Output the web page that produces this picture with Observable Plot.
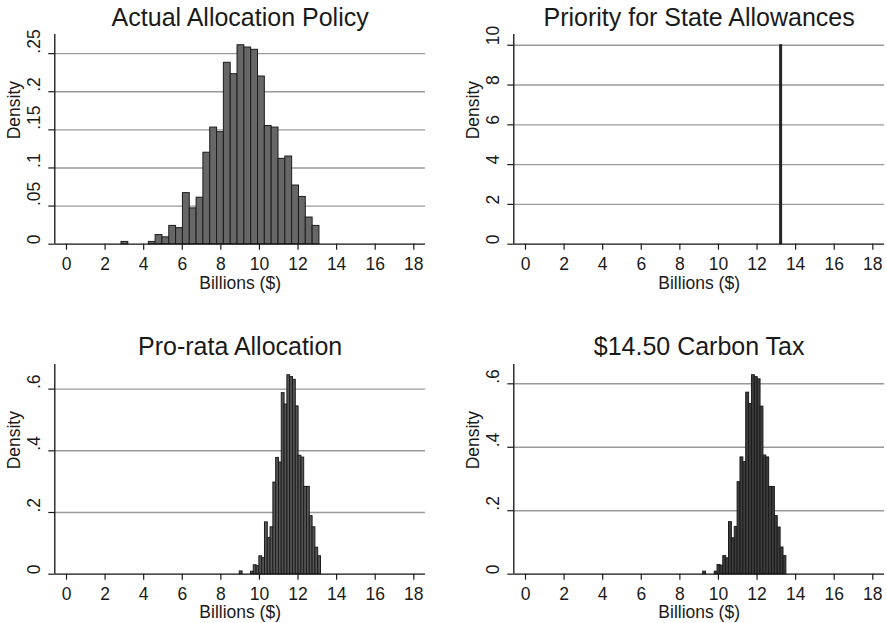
<!DOCTYPE html>
<html><head><meta charset="utf-8">
<script src="https://cdn.jsdelivr.net/npm/d3@7"></script>
<script src="https://cdn.jsdelivr.net/npm/@observablehq/plot@0.6"></script>
<style>
html,body{margin:0;padding:0;background:#fff;}
#chart{position:relative;width:887px;height:623px;overflow:hidden;background:#fff;}
#chart > svg{position:absolute;}
</style></head><body><div id="chart"></div>
<script>
// ---- Data ----
const xTicks = [0, 2, 4, 6, 8, 10, 12, 14, 16, 18];
const xLabel = "Billions ($)";
const yLabel = "Density";
const titles = ["Actual Allocation Policy", "Priority for State Allowances", "Pro-rata Allocation", "$14.50 Carbon Tax"];

// histogram bin range (billions $) and density per bin
const actualRange = [2.85, 13.11];
const actualDensity = [0.003, 0, 0, 0, 0.003, 0.012, 0.009, 0.024, 0.021, 0.067, 0.047, 0.061, 0.120, 0.153, 0.147,
  0.238, 0.223, 0.261, 0.258, 0.255, 0.220, 0.155, 0.153, 0.112, 0.115, 0.077, 0.062, 0.035, 0.024];

const priorityRange = [13.2, 13.3];
const priorityDensity = [10];

const prorataRange = [8.98, 13.19];
const prorataDensity = [0.009, 0, 0, 0, 0.008, 0.029, 0.026, 0.058, 0.052, 0.168, 0.117, 0.152, 0.297, 0.377, 0.362,
  0.587, 0.550, 0.645, 0.639, 0.630, 0.544, 0.384, 0.378, 0.283, 0.283, 0.188, 0.152, 0.086, 0.058];

const carbonRange = [9.21, 13.52];
const carbonDensity = [0.008, 0, 0, 0, 0.008, 0.029, 0.027, 0.057, 0.050, 0.164, 0.113, 0.149, 0.290, 0.368, 0.353,
  0.572, 0.536, 0.627, 0.621, 0.614, 0.528, 0.374, 0.368, 0.275, 0.275, 0.183, 0.147, 0.084, 0.057];

const actualYTicks = [0, 0.05, 0.1, 0.15, 0.2, 0.25];
const actualYLabels = ["0", ".05", ".1", ".15", ".2", ".25"];
const priorityYTicks = [0, 2, 4, 6, 8, 10];
const priorityYLabels = ["0", "2", "4", "6", "8", "10"];
const prorataYTicks = [0, 0.2, 0.4, 0.6];
const prorataYLabels = ["0", ".2", ".4", ".6"];
const carbonYTicks = [0, 0.2, 0.4, 0.6];
const carbonYLabels = ["0", ".2", ".4", ".6"];

// ---- Build ----
function makeBins(range, dens) {
  const w = (range[1] - range[0]) / dens.length;
  return dens.map((d, i) => ({x1: range[0] + i * w, x2: range[0] + (i + 1) * w, density: d}))
             .filter(d => d.density > 0);
}

const FONT = "'Liberation Sans', Arial, Helvetica, sans-serif";
const xDom = [-0.606, 18.606];

function panel({title, bins, yTicks, yLabels, fill, width, height, marginRight, marginBottom, left, top}) {
  const yMax = d3.max(bins, d => d.density) * 1.054;
  const svg = Plot.plot({
    width, height,
    marginLeft: 54.3, marginRight, marginTop: 34, marginBottom,
    style: {fontFamily: FONT, fontSize: "17.5px", background: "transparent", color: "#1a1a1a", overflow: "visible"},
    x: {domain: xDom},
    y: {domain: [0, yMax]},
    marks: [
      Plot.ruleY(yTicks.filter(t => t > 0), {stroke: "#9a9a9a", strokeWidth: 1.4}),
      Plot.rect(bins, {x1: "x1", x2: "x2", y1: 0, y2: "density", fill, stroke: "#1c1c1c", strokeWidth: 1, inset: 0}),
      Plot.ruleY([0], {stroke: "#111", strokeWidth: 1.3}),
      Plot.ruleX([xDom[0]], {stroke: "#111", strokeWidth: 1.3}),
      Plot.axisX(xTicks, {tickSize: 6, tickPadding: 7, fontSize: 17.5, strokeWidth: 1.2, label: null}),
      Plot.axisY(yTicks, {tickSize: 6, tickFormat: () => "", strokeWidth: 1.2, label: null}),
      Plot.text(yTicks, {y: d => d, text: (d, i) => yLabels[i], frameAnchor: "left", rotate: -90, lineAnchor: "bottom", dx: -15, fontSize: 17.5}),
      Plot.text([title], {frameAnchor: "top", lineAnchor: "bottom", dy: -9, fontSize: 25}),
      Plot.text([xLabel], {frameAnchor: "bottom", lineAnchor: "bottom", dy: 44.3, fontSize: 17.5}),
      Plot.text([yLabel], {frameAnchor: "left", rotate: -90, lineAnchor: "bottom", dx: -35, fontSize: 17.5})
    ]
  });
  svg.style.left = left + "px";
  svg.style.top = top + "px";
  document.getElementById("chart").appendChild(svg);
}

panel({title: titles[0], bins: makeBins(actualRange, actualDensity), yTicks: actualYTicks, yLabels: actualYLabels,
  fill: "#676767", width: 443, height: 300, marginRight: 18, marginBottom: 56.3, left: 0, top: 0});
panel({title: titles[1], bins: makeBins(priorityRange, priorityDensity), yTicks: priorityYTicks, yLabels: priorityYLabels,
  fill: "#2a2a2a", width: 428, height: 300, marginRight: 3, marginBottom: 56.3, left: 459, top: 0});
panel({title: titles[2], bins: makeBins(prorataRange, prorataDensity), yTicks: prorataYTicks, yLabels: prorataYLabels,
  fill: "#555555", width: 443, height: 293.4, marginRight: 18, marginBottom: 49.7, left: 0, top: 329.6});
panel({title: titles[3], bins: makeBins(carbonRange, carbonDensity), yTicks: carbonYTicks, yLabels: carbonYLabels,
  fill: "#3c3c3c", width: 428, height: 293.4, marginRight: 3, marginBottom: 49.7, left: 459, top: 329.6});
</script></body></html>
